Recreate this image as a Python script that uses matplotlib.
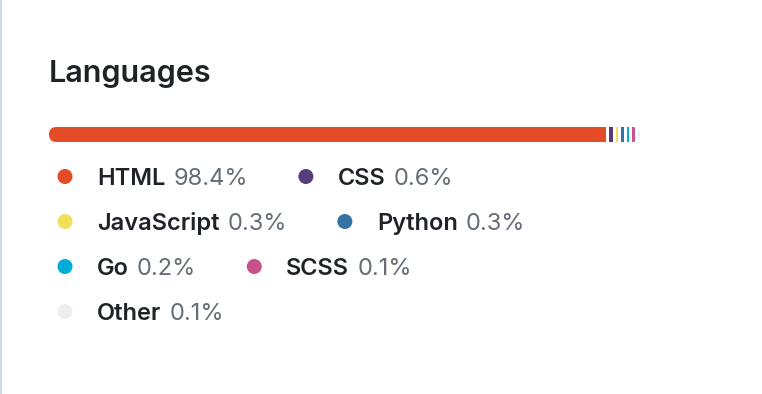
import matplotlib.pyplot as plt
from matplotlib.patches import FancyBboxPatch, Circle

languages = ['HTML', 'CSS', 'JavaScript', 'Python', 'Go', 'SCSS', 'Other']
percents = [98.4, 0.6, 0.3, 0.3, 0.2, 0.1, 0.1]
colors = ['#e34c26', '#563d7c', '#f1e05a', '#3572a5', '#00add8', '#c6538c', '#ededed']

plt.rcParams['font.family'] = ['Inter', 'DejaVu Sans']

fig = plt.figure(figsize=(7.62, 3.94), dpi=100)
ax = fig.add_axes([0, 0, 1, 1])
ax.set_xlim(0, 762)
ax.set_ylim(394, 0)  # pixel coords, y down
ax.axis('off')

# thin border on the left edge
ax.axvline(0.8, color='#d1d9e0', lw=1.5)

ax.text(49, 82, 'Languages', fontsize=22, fontweight='semibold', color='#1f2328')

# stacked progress bar
bar_x0, bar_x1, bar_y, bar_h = 49, 640, 127, 15
gap = 3.0
min_w = 2.5
total = bar_x1 - bar_x0
small_w = [max(p / 100 * total, min_w) for p in percents[1:]]
widths = [total - sum(small_w) - gap * len(small_w)] + small_w

clip = FancyBboxPatch((bar_x0, bar_y), total, bar_h,
                      boxstyle='round,pad=0,rounding_size=7.5',
                      facecolor='none', edgecolor='none')
ax.add_patch(clip)
left = bar_x0
for w, c in zip(widths, colors):
    bars = ax.barh(bar_y + bar_h / 2, w, left=left, height=bar_h, color=c, lw=0)
    for b in bars:
        b.set_clip_path(clip)
    left += w + gap

# legend, two items per row
fs = 17
cap = 0.727 * fs * 100 / 72
renderer = fig.canvas.get_renderer()
row_y0, row_step = 176.5, 45
x = 65
for i, (name, p, c) in enumerate(zip(languages, percents, colors)):
    row, col = divmod(i, 2)
    y = row_y0 + row * row_step
    if col == 0:
        x = 65
    ax.add_patch(Circle((x, y), 7.5, color=c, lw=0))
    t1 = ax.text(x + 32, y + cap / 2, name, fontsize=fs, fontweight='semibold', color='#1f2328')
    bb = t1.get_window_extent(renderer)
    t2 = ax.text(bb.x1 + 8, y + cap / 2, f'{p}%', fontsize=fs, color='#656d76')
    bb2 = t2.get_window_extent(renderer)
    x = bb2.x1 + 58

fig.savefig('out.png', dpi=100)
